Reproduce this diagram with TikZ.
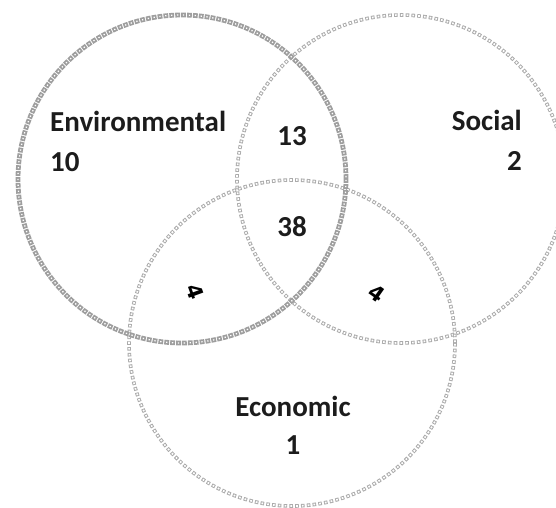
\documentclass[tikz,border=0pt]{standalone}
\usepackage{fontspec}
\setmainfont{Carlito}
\newfontfamily\fourfont{DejaVu Sans}
\definecolor{ringgray}{HTML}{ABABAB}
\definecolor{boldgray}{HTML}{9E9E9E}
\definecolor{txt}{HTML}{1C1C1C}
\tikzset{
  ringouter/.style={draw=ringgray, line width=3.6pt, dash pattern=on 3.6pt off 2.2pt},
  ringinner/.style={draw=white, line width=1.7pt, dash pattern=on 1.7pt off 4.1pt, dash phase=4.85pt},
  boldouter/.style={draw=boldgray, line width=4.8pt, dash pattern=on 4.8pt off 1.1pt},
  boldinner/.style={draw=white, line width=1.3pt, dash pattern=on 1.3pt off 4.6pt, dash phase=4.15pt},
  lbl/.style={font=\bfseries\fontsize{29}{34}\selectfont, text=txt, inner sep=0pt},
  four/.style={font=\fourfont\bfseries\fontsize{21}{25}\selectfont, text=black, inner sep=0pt}
}
\begin{document}
\begin{tikzpicture}[x=1pt,y=-1pt]
\useasboundingbox (0,0) rectangle (556,507);
\coordinate (cE) at (182,179);
\coordinate (cS) at (401,179);
\coordinate (cC) at (292,343);
% thin circles
\draw[ringouter] (cS) circle[radius=164pt];
\draw[ringinner] (cS) circle[radius=164pt];
\draw[ringouter] (cC) circle[radius=163pt];
\draw[ringinner] (cC) circle[radius=163pt];
% bold circle
\draw[boldouter] (cE) circle[radius=164pt];
\draw[boldinner] (cE) circle[radius=164pt];
% labels
\node[lbl, anchor=base west] (env) at (50,131) {Environmental};
\node[lbl, anchor=base west] (envn) at (50,171) {10};
\node[lbl, anchor=base east] (soc) at (522,130) {Social};
\node[lbl, anchor=base east] (socn) at (522,170) {2};
\node[lbl, anchor=base] (es) at (292,145) {13};
\node[lbl, anchor=base] (all) at (292,236) {38};
\node[lbl, anchor=base] (eco) at (293,416) {Economic};
\node[lbl, anchor=base] (econ) at (293,454) {1};
\node[four, rotate=-70] (ec) at (195,292) {4};
\node[four, rotate=-35] (sc) at (377,293) {4};
\end{tikzpicture}
\end{document}
